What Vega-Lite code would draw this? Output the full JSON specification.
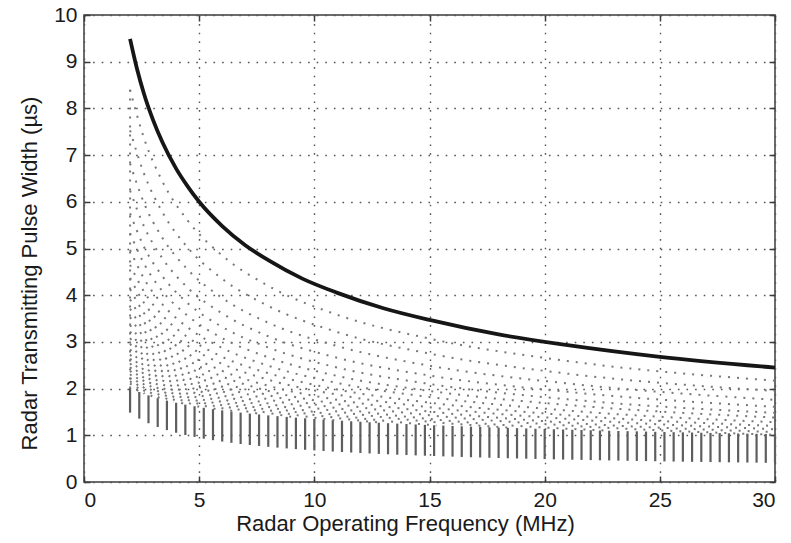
{
  "$schema": "https://vega.github.io/schema/vega-lite/v6.json",
  "width": 691,
  "height": 467,
  "autosize": {"type": "none"},
  "padding": {"left": 84, "top": 15, "right": 16, "bottom": 61},
  "background": "white",
  "config": {
    "view": {"stroke": "#3c3c3c", "strokeWidth": 1.5},
    "font": "Liberation Sans",
    "axis": {
      "labelFont": "Liberation Sans", "titleFont": "Liberation Sans",
      "labelFontSize": 21, "titleFontSize": 22, "titleFontWeight": "normal",
      "labelColor": "#1a1a1a", "titleColor": "#1a1a1a",
      "domainColor": "#3c3c3c", "domainWidth": 1.5,
      "tickColor": "#3c3c3c", "tickWidth": 1.5, "tickSize": -6,
      "gridColor": "#555", "gridDash": [1.6, 7], "gridWidth": 1.4, "gridOpacity": 1
    }
  },
  "datasets": {
    "cols": [
      {"f":2.0,"yb":1.485,"ys":2.018},{"f":2.4,"yb":1.357,"ys":1.928},{"f":2.8,"yb":1.258,"ys":1.855},{"f":3.2,"yb":1.177,"ys":1.795},
      {"f":3.6,"yb":1.111,"ys":1.743},{"f":4.0,"yb":1.055,"ys":1.697},{"f":4.4,"yb":1.007,"ys":1.657},{"f":4.8,"yb":0.965,"ys":1.622},
      {"f":5.2,"yb":0.928,"ys":1.589},{"f":5.6,"yb":0.895,"ys":1.560},{"f":6.0,"yb":0.866,"ys":1.534},{"f":6.4,"yb":0.839,"ys":1.508},
      {"f":6.8,"yb":0.814,"ys":1.486},{"f":7.2,"yb":0.792,"ys":1.465},{"f":7.6,"yb":0.772,"ys":1.446},{"f":8.0,"yb":0.753,"ys":1.427},
      {"f":8.4,"yb":0.736,"ys":1.410},{"f":8.8,"yb":0.719,"ys":1.394},{"f":9.2,"yb":0.704,"ys":1.378},{"f":9.6,"yb":0.690,"ys":1.364},
      {"f":10.0,"yb":0.677,"ys":1.350},{"f":10.4,"yb":0.664,"ys":1.336},{"f":10.8,"yb":0.652,"ys":1.324},{"f":11.2,"yb":0.641,"ys":1.312},
      {"f":11.6,"yb":0.631,"ys":1.300},{"f":12.0,"yb":0.621,"ys":1.290},{"f":12.4,"yb":0.611,"ys":1.279},{"f":12.8,"yb":0.602,"ys":1.269},
      {"f":13.2,"yb":0.593,"ys":1.259},{"f":13.6,"yb":0.585,"ys":1.250},{"f":14.0,"yb":0.577,"ys":1.241},{"f":14.4,"yb":0.570,"ys":1.232},
      {"f":14.8,"yb":0.563,"ys":1.224},{"f":15.2,"yb":0.556,"ys":1.215},{"f":15.6,"yb":0.549,"ys":1.208},{"f":16.0,"yb":0.543,"ys":1.200},
      {"f":16.4,"yb":0.536,"ys":1.193},{"f":16.8,"yb":0.530,"ys":1.185},{"f":17.2,"yb":0.525,"ys":1.179},{"f":17.6,"yb":0.519,"ys":1.172},
      {"f":18.0,"yb":0.514,"ys":1.165},{"f":18.4,"yb":0.509,"ys":1.159},{"f":18.8,"yb":0.504,"ys":1.153},{"f":19.2,"yb":0.499,"ys":1.147},
      {"f":19.6,"yb":0.494,"ys":1.141},{"f":20.0,"yb":0.490,"ys":1.135},{"f":20.4,"yb":0.485,"ys":1.129},{"f":20.8,"yb":0.481,"ys":1.124},
      {"f":21.2,"yb":0.477,"ys":1.118},{"f":21.6,"yb":0.473,"ys":1.113},{"f":22.0,"yb":0.469,"ys":1.108},{"f":22.4,"yb":0.465,"ys":1.103},
      {"f":22.8,"yb":0.462,"ys":1.098},{"f":23.2,"yb":0.458,"ys":1.093},{"f":23.6,"yb":0.454,"ys":1.089},{"f":24.0,"yb":0.451,"ys":1.085},
      {"f":24.4,"yb":0.448,"ys":1.080},{"f":24.8,"yb":0.445,"ys":1.075},{"f":25.2,"yb":0.441,"ys":1.071},{"f":25.6,"yb":0.438,"ys":1.067},
      {"f":26.0,"yb":0.435,"ys":1.063},{"f":26.4,"yb":0.432,"ys":1.059},{"f":26.8,"yb":0.430,"ys":1.055},{"f":27.2,"yb":0.427,"ys":1.051},
      {"f":27.6,"yb":0.424,"ys":1.047},{"f":28.0,"yb":0.421,"ys":1.043},{"f":28.4,"yb":0.419,"ys":1.039},{"f":28.8,"yb":0.416,"ys":1.036},
      {"f":29.2,"yb":0.414,"ys":1.032},{"f":29.6,"yb":0.411,"ys":1.029},{"f":30.0,"yb":0.409,"ys":1.026}
    ],
    "edge": [{"f": 2.0, "lo": 2.0, "hi": 8.4}],
    "main": [
      {"f":2.0,"w":9.49},{"f":2.3,"w":8.85},{"f":2.6,"w":8.32},{"f":3.0,"w":7.75},{"f":3.4,"w":7.28},{"f":4.0,"w":6.71},
      {"f":4.5,"w":6.33},{"f":5.0,"w":6.00},{"f":6.0,"w":5.48},{"f":7.0,"w":5.07},{"f":8.0,"w":4.75},{"f":9.5,"w":4.35},
      {"f":11.0,"w":4.05},{"f":13.0,"w":3.72},{"f":15.0,"w":3.47},{"f":18.0,"w":3.16},{"f":21.0,"w":2.93},{"f":25.0,"w":2.68},{"f":30.0,"w":2.45}
    ],
    "curves": [
      {"c":1,"f":2,"w":8.40},{"c":1,"f":2.6,"w":7.37},{"c":1,"f":3.4,"w":6.44},{"c":1,"f":4.5,"w":5.60},{"c":1,"f":6,"w":4.85},{"c":1,"f":8,"w":4.20},{"c":1,"f":11,"w":3.58},{"c":1,"f":15,"w":3.07},{"c":1,"f":21,"w":2.59},{"c":1,"f":30,"w":2.17},
      {"c":2,"f":2,"w":7.53},{"c":2,"f":2.6,"w":6.61},{"c":2,"f":3.4,"w":5.78},{"c":2,"f":4.5,"w":5.02},{"c":2,"f":6,"w":4.35},{"c":2,"f":8,"w":3.77},{"c":2,"f":11,"w":3.21},{"c":2,"f":15,"w":2.75},{"c":2,"f":21,"w":2.32},{"c":2,"f":30,"w":1.95},
      {"c":3,"f":2,"w":6.82},{"c":3,"f":2.6,"w":5.98},{"c":3,"f":3.4,"w":5.23},{"c":3,"f":4.5,"w":4.55},{"c":3,"f":6,"w":3.94},{"c":3,"f":8,"w":3.41},{"c":3,"f":11,"w":2.91},{"c":3,"f":15,"w":2.49},{"c":3,"f":21,"w":2.11},{"c":3,"f":30,"w":1.76},
      {"c":4,"f":2,"w":6.24},{"c":4,"f":2.6,"w":5.48},{"c":4,"f":3.4,"w":4.79},{"c":4,"f":4.5,"w":4.16},{"c":4,"f":6,"w":3.61},{"c":4,"f":8,"w":3.12},{"c":4,"f":11,"w":2.66},{"c":4,"f":15,"w":2.28},{"c":4,"f":21,"w":1.93},{"c":4,"f":30,"w":1.61},
      {"c":5,"f":2,"w":5.75},{"c":5,"f":2.6,"w":5.04},{"c":5,"f":3.4,"w":4.41},{"c":5,"f":4.5,"w":3.83},{"c":5,"f":6,"w":3.32},{"c":5,"f":8,"w":2.88},{"c":5,"f":11,"w":2.45},{"c":5,"f":15,"w":2.10},{"c":5,"f":21,"w":1.77},{"c":5,"f":30,"w":1.48},
      {"c":6,"f":2,"w":5.33},{"c":6,"f":2.6,"w":4.68},{"c":6,"f":3.4,"w":4.09},{"c":6,"f":4.5,"w":3.56},{"c":6,"f":6,"w":3.08},{"c":6,"f":8,"w":2.67},{"c":6,"f":11,"w":2.27},{"c":6,"f":15,"w":1.95},{"c":6,"f":21,"w":1.65},{"c":6,"f":30,"w":1.38},
      {"c":7,"f":2,"w":4.97},{"c":7,"f":2.6,"w":4.36},{"c":7,"f":3.4,"w":3.81},{"c":7,"f":4.5,"w":3.31},{"c":7,"f":6,"w":2.87},{"c":7,"f":8,"w":2.49},{"c":7,"f":11,"w":2.12},{"c":7,"f":15,"w":1.82},{"c":7,"f":21,"w":1.53},{"c":7,"f":30,"w":1.28},
      {"c":8,"f":2,"w":4.65},{"c":8,"f":2.6,"w":4.08},{"c":8,"f":3.4,"w":3.57},{"c":8,"f":4.5,"w":3.10},{"c":8,"f":6,"w":2.68},{"c":8,"f":8,"w":2.33},{"c":8,"f":11,"w":1.98},{"c":8,"f":15,"w":1.70},{"c":8,"f":21,"w":1.43},{"c":8,"f":30,"w":1.20},
      {"c":9,"f":2,"w":4.37},{"c":9,"f":2.6,"w":3.84},{"c":9,"f":3.4,"w":3.36},{"c":9,"f":4.5,"w":2.92},{"c":9,"f":6,"w":2.53},{"c":9,"f":8,"w":2.19},{"c":9,"f":11,"w":1.87},{"c":9,"f":15,"w":1.60},{"c":9,"f":21,"w":1.35},{"c":9,"f":30,"w":1.13},
      {"c":10,"f":2,"w":4.13},{"c":10,"f":2.6,"w":3.62},{"c":10,"f":3.4,"w":3.17},{"c":10,"f":4.5,"w":2.75},{"c":10,"f":6,"w":2.38},{"c":10,"f":8,"w":2.06},{"c":10,"f":11,"w":1.76},{"c":10,"f":15,"w":1.51},{"c":10,"f":21,"w":1.27},{"c":10,"f":30,"w":1.07},
      {"c":11,"f":2,"w":3.91},{"c":11,"f":2.6,"w":3.43},{"c":11,"f":3.4,"w":3.00},{"c":11,"f":4.5,"w":2.61},{"c":11,"f":6,"w":2.26},{"c":11,"f":8,"w":1.95},{"c":11,"f":11,"w":1.67},{"c":11,"f":15,"w":1.43},{"c":11,"f":21,"w":1.21},{"c":11,"f":30,"w":1.01},
      {"c":12,"f":2,"w":3.71},{"c":12,"f":2.6,"w":3.25},{"c":12,"f":3.4,"w":2.85},{"c":12,"f":4.5,"w":2.47},{"c":12,"f":6,"w":2.14},{"c":12,"f":8,"w":1.86},{"c":12,"f":11,"w":1.58},{"c":12,"f":15,"w":1.35},{"c":12,"f":21,"w":1.14},{"c":12,"f":22.8,"w":1.10},
      {"c":13,"f":2,"w":3.53},{"c":13,"f":2.6,"w":3.10},{"c":13,"f":3.4,"w":2.71},{"c":13,"f":4.5,"w":2.35},{"c":13,"f":6,"w":2.04},{"c":13,"f":8,"w":1.77},{"c":13,"f":11,"w":1.51},{"c":13,"f":15,"w":1.29},{"c":13,"f":18.6,"w":1.16},
      {"c":14,"f":2,"w":3.36},{"c":14,"f":2.6,"w":2.95},{"c":14,"f":3.4,"w":2.58},{"c":14,"f":4.5,"w":2.24},{"c":14,"f":6,"w":1.94},{"c":14,"f":8,"w":1.68},{"c":14,"f":11,"w":1.43},{"c":14,"f":15.3,"w":1.21},
      {"c":15,"f":2,"w":3.22},{"c":15,"f":2.6,"w":2.82},{"c":15,"f":3.4,"w":2.47},{"c":15,"f":4.5,"w":2.14},{"c":15,"f":6,"w":1.86},{"c":15,"f":8,"w":1.61},{"c":15,"f":11,"w":1.37},{"c":15,"f":12.9,"w":1.27},
      {"c":16,"f":2,"w":3.08},{"c":16,"f":2.6,"w":2.70},{"c":16,"f":3.4,"w":2.37},{"c":16,"f":4.5,"w":2.06},{"c":16,"f":6,"w":1.78},{"c":16,"f":8,"w":1.54},{"c":16,"f":10.9,"w":1.32},
      {"c":17,"f":2,"w":2.96},{"c":17,"f":2.6,"w":2.60},{"c":17,"f":3.4,"w":2.27},{"c":17,"f":4.5,"w":1.97},{"c":17,"f":6,"w":1.71},{"c":17,"f":8,"w":1.48},{"c":17,"f":9.2,"w":1.38},
      {"c":18,"f":2,"w":2.84},{"c":18,"f":2.6,"w":2.49},{"c":18,"f":3.4,"w":2.18},{"c":18,"f":4.5,"w":1.89},{"c":18,"f":6,"w":1.64},{"c":18,"f":7.8,"w":1.44},
      {"c":19,"f":2,"w":2.73},{"c":19,"f":2.6,"w":2.40},{"c":19,"f":3.4,"w":2.10},{"c":19,"f":4.5,"w":1.82},{"c":19,"f":6,"w":1.58},{"c":19,"f":6.7,"w":1.49},
      {"c":20,"f":2,"w":2.64},{"c":20,"f":2.6,"w":2.31},{"c":20,"f":3.4,"w":2.02},{"c":20,"f":4.5,"w":1.76},{"c":20,"f":5.8,"w":1.55},
      {"c":21,"f":2,"w":2.54},{"c":21,"f":2.6,"w":2.23},{"c":21,"f":3.4,"w":1.95},{"c":21,"f":4.5,"w":1.70},{"c":21,"f":5.0,"w":1.61},
      {"c":22,"f":2,"w":2.46},{"c":22,"f":2.6,"w":2.16},{"c":22,"f":3.4,"w":1.89},{"c":22,"f":4.4,"w":1.66},
      {"c":23,"f":2,"w":2.38},{"c":23,"f":2.6,"w":2.09},{"c":23,"f":3.4,"w":1.83},{"c":23,"f":3.9,"w":1.71},
      {"c":24,"f":2,"w":2.31},{"c":24,"f":2.6,"w":2.02},{"c":24,"f":3.4,"w":1.77},
      {"c":25,"f":2,"w":2.23},{"c":25,"f":2.6,"w":1.96},{"c":25,"f":2.97,"w":1.83},
      {"c":26,"f":2,"w":2.16},{"c":26,"f":2.63,"w":1.89},
      {"c":27,"f":2,"w":2.11},{"c":27,"f":2.37,"w":1.94}
    ]
  },
  "resolve": {"axis": {"x": "independent", "y": "independent"}},
  "layer": [
    {
      "data": {"name": "cols"},
      "mark": {"type": "rule", "color": "#5e5e5e", "strokeWidth": 2.2},
      "encoding": {
        "x": {"field": "f", "type": "quantitative", "scale": {"domain": [0, 30], "nice": false, "zero": false},
              "axis": {"title": "Radar Operating Frequency (MHz)", "values": [0,5,10,15,20,25,30], "grid": true, "labelPadding": 13, "titlePadding": 3, "titleX": 321, "domain": false}},
        "y": {"field": "yb", "type": "quantitative", "scale": {"domain": [0, 10], "nice": false, "zero": false},
              "axis": {"title": "Radar Transmitting Pulse Width (µs)", "values": [0,1,2,3,4,5,6,7,8,9,10], "grid": true, "labelPadding": 13, "titlePadding": 12, "titleY": 258, "domain": false}},
        "y2": {"field": "ys"}
      }
    },
    {
      "data": {"name": "curves"},
      "mark": {"type": "line", "color": "#787878", "strokeWidth": 2, "strokeDash": [2, 7], "interpolate": "monotone"},
      "encoding": {
        "x": {"field": "f", "type": "quantitative", "axis": null},
        "y": {"field": "w", "type": "quantitative", "axis": null},
        "detail": {"field": "c", "type": "nominal"}
      }
    },
    {
      "data": {"name": "edge"},
      "mark": {"type": "rule", "color": "#787878", "strokeWidth": 2, "strokeDash": [2, 7]},
      "encoding": {
        "x": {"field": "f", "type": "quantitative", "axis": null},
        "y": {"field": "lo", "type": "quantitative", "axis": null},
        "y2": {"field": "hi"}
      }
    },
    {
      "data": {"name": "main"},
      "mark": {"type": "line", "color": "#161616", "strokeWidth": 3.8, "interpolate": "monotone"},
      "encoding": {
        "x": {"field": "f", "type": "quantitative",
              "axis": {"orient": "top", "labels": false, "title": null, "grid": false, "domain": false, "values": [0,5,10,15,20,25,30]}},
        "y": {"field": "w", "type": "quantitative",
              "axis": {"orient": "right", "labels": false, "title": null, "grid": false, "domain": false, "values": [0,1,2,3,4,5,6,7,8,9,10]}}
      }
    }
  ]
}
